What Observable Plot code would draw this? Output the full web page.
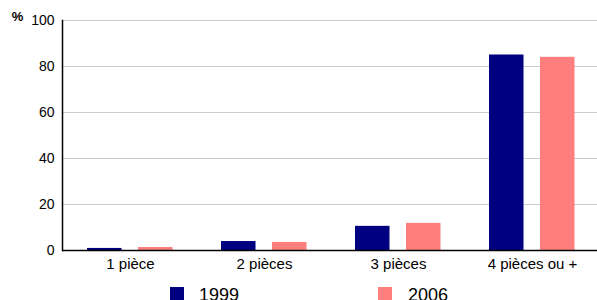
<!DOCTYPE html>
<html>
<head>
<meta charset="utf-8">
<script src="https://cdn.jsdelivr.net/npm/d3@7"></script>
<script src="https://cdn.jsdelivr.net/npm/@observablehq/plot@0.6"></script>
<style>
  html, body { margin: 0; padding: 0; background: #fff; width: 597px; height: 300px; overflow: hidden; font-family: "Liberation Sans", Arial, sans-serif; }
  #legend { position: relative; height: 20px; width: 597px; }
  .sw { position: absolute; width: 14px; height: 14px; top: 7px; }
  .lt { position: absolute; top: 6px; font-size: 18px; line-height: 18px; color: #000; }
</style>
</head>
<body>
<div id="chart"></div>
<div id="legend"></div>
<script>
const categories = ["1 pièce", "2 pièces", "3 pièces", "4 pièces ou +"];
const values1999 = [0.9, 3.9, 10.5, 85];
const values2006 = [1.3, 3.5, 11.8, 84];
const series = ["1999", "2006"];
const colors = ["#000080", "#ff7f7f"];
const yTicks = [0, 20, 40, 60, 80, 100];

const d1999 = categories.map((c, i) => ({category: c, value: values1999[i]}));
const d2006 = categories.map((c, i) => ({category: c, value: values2006[i]}));

const chart = Plot.plot({
  width: 597,
  height: 280,
  marginLeft: 62,
  marginRight: 0,
  marginTop: 20,
  marginBottom: 30,
  style: {fontFamily: "Liberation Sans, Arial, sans-serif", background: "#fff"},
  x: {domain: categories, range: [62, 600], padding: 0},
  y: {domain: [0, 100], ticks: yTicks},
  marks: [
    Plot.ruleY(yTicks.filter(t => t > 0), {stroke: "#cccccc", strokeWidth: 1}),
    Plot.barY(d1999, {x: "category", y: "value", fill: colors[0], insetLeft: 24, insetRight: 75.5}),
    Plot.barY(d2006, {x: "category", y: "value", fill: colors[1], insetLeft: 75, insetRight: 24.5}),
    Plot.ruleY([0], {stroke: "#000", strokeWidth: 1.5}),
    Plot.frame({anchor: "left", stroke: "#000", strokeWidth: 1.5}),
    Plot.axisY({ticks: yTicks, tickSize: 0, tickPadding: 8, fontSize: 14, label: null}),
    Plot.axisX({tickSize: 0, tickPadding: 8, fontSize: 15, label: null}),
    Plot.text(["%"], {frameAnchor: "top-left", dx: -45, dy: -4, lineAnchor: "middle", textAnchor: "middle", fontSize: 13, fontWeight: "bold"})
  ]
});
chart.querySelectorAll("text").forEach(t => t.setAttribute("fill", "#000"));
document.getElementById("chart").appendChild(chart);

const legend = document.getElementById("legend");
const swX = [170, 378];
const txX = [199, 408];
series.forEach((s, i) => {
  const sw = document.createElement("div");
  sw.className = "sw";
  sw.style.left = swX[i] + "px";
  sw.style.background = colors[i];
  legend.appendChild(sw);
  const t = document.createElement("div");
  t.className = "lt";
  t.style.left = txX[i] + "px";
  t.textContent = s;
  legend.appendChild(t);
});
</script>
</body>
</html>
